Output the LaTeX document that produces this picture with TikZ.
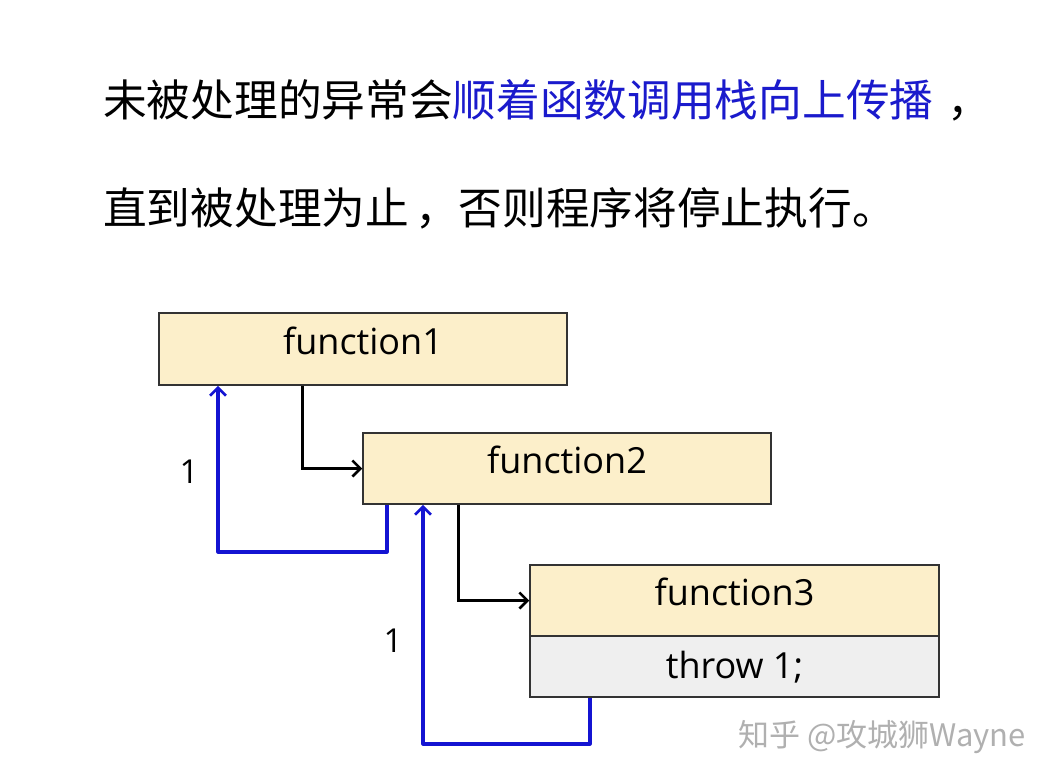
\documentclass[tikz,border=0pt]{standalone}
\usepackage{fontspec}
\setmainfont{Open Sans}
\newfontfamily\cjkfont{Noto Sans CJK SC}
\usetikzlibrary{arrows.meta}
\definecolor{boxfill}{HTML}{FCEFCA}
\definecolor{throwfill}{HTML}{EFEFEF}
\definecolor{boxline}{HTML}{333333}
\definecolor{textblue}{HTML}{1A1ACC}
\definecolor{arrowblue}{HTML}{1414D2}
\definecolor{wmgray}{HTML}{B0B0B0}
\tikzset{
  funcbox/.style={draw=boxline, line width=1.5pt, fill=boxfill, inner sep=0pt,
    minimum width=408pt, font=\fontsize{36}{40}\selectfont,
    text height=22pt, text depth=12pt},
  throwbox/.style={funcbox, fill=throwfill, text height=26pt, text depth=3pt},
  calltip/.style={-{Straight Barb[length=8pt,width=16pt,line width=2.6pt]}, line width=3pt, black},
  throwtip/.style={-{Straight Barb[length=8pt,width=16pt,line width=2.8pt]}, line width=3.2pt, arrowblue, line join=round},
  countlbl/.style={font=\fontsize{33}{36}\selectfont, inner sep=0pt},
  titletxt/.style={anchor=west, inner sep=0pt, font=\cjkfont\fontsize{43.7}{50}\selectfont}
}
\begin{document}
\begin{tikzpicture}[x=1pt,y=-1pt]
\useasboundingbox[fill=white] (0,0) rectangle (1053,782);

\node[titletxt] (t1) at (103,100) {未被处理的异常会\textcolor{textblue}{顺着函数调用栈向上传播}\hspace{14pt}，};
\node[titletxt] (t2) at (103,208) {直到被处理为止\hspace{6pt}，否则程序将停止执行。};

\node[funcbox, minimum height=72pt] (f1) at (363,349) {function1};
\node[funcbox, minimum height=71pt] (f2) at (567,468.5) {function2};
\node[funcbox, minimum width=409pt, minimum height=71pt] (f3) at (734.5,600.5) {function3};
\node[throwbox, minimum width=409pt, minimum height=61pt] (th) at (734.5,666.5) {throw 1;};

\coordinate (c1) at (218,552);
\coordinate (c2) at (423,744);

\draw[calltip] (f1.south -| 302,0) |- (f2.west);
\draw[calltip] (f2.south -| 458,0) |- (f3.west);
\draw[throwtip] (f2.south -| 387,0) |- (c1) -- (f1.south -| c1);
\draw[throwtip] (th.south -| 590,0) |- (c2) -- (f2.south -| c2);

\node[countlbl] (n1) at (189,472) {1};
\node[countlbl] (n2) at (393,641) {1};

\node[anchor=west, inner sep=0pt, text=wmgray, font=\cjkfont\fontsize{31}{34}\selectfont] (wm) at (738,737) {知乎 @攻城狮Wayne};
\end{tikzpicture}
\end{document}
